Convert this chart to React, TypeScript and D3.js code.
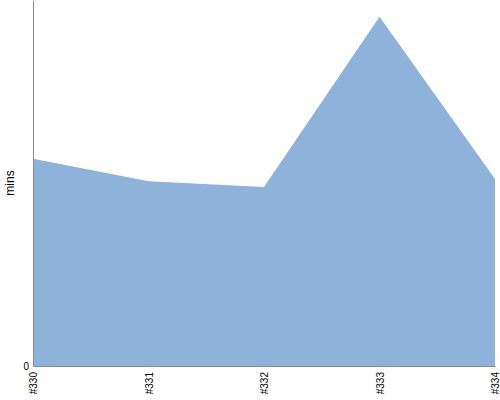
import React, { useEffect, useRef } from 'react';
import * as d3 from 'd3';

// episode numbers and minutes
const episodes = ['#330', '#331', '#332', '#333', '#334'];
const minutes = [56.6, 50.5, 48.9, 95.4, 51.1];
const yMax = 100;

const App = () => {
    const ref = useRef<SVGSVGElement>(null);

    useEffect(() => {
        const svg = d3.select(ref.current);
        svg.selectAll('*').remove();

        var margin = { top: 0, right: 5, bottom: 34, left: 33 },
            width = 500 - margin.left - margin.right,
            height = 400 - margin.top - margin.bottom;

        const g = svg.append('g')
            .attr('transform', 'translate(' + margin.left + ',' + margin.top + ')');

        const x = d3.scalePoint<string>()
            .domain(episodes)
            .range([0, width]);

        const y = d3.scaleLinear()
            .domain([0, yMax])
            .range([height, 0]);

        const area = d3.area<number>()
            .x((d, i) => x(episodes[i]) ?? 0)
            .y0(height)
            .y1(d => y(d));

        g.append('path')
            .datum(minutes)
            .attr('d', area)
            .attr('fill', '#8fb2db');

        // x axis
        const xAxis = g.append('g')
            .attr('transform', 'translate(0,' + height + ')')
            .call(d3.axisBottom(x).tickSize(0).tickPadding(0));
        xAxis.select('.domain').attr('stroke', '#888');
        xAxis.selectAll('text')
            .attr('transform', 'rotate(-90)')
            .attr('x', -6)
            .attr('y', 0)
            .attr('dy', '0.35em')
            .style('text-anchor', 'end')
            .style('font-family', 'Arial, "Liberation Sans", sans-serif')
            .style('font-size', '10px')
            .attr('fill', '#000');

        // y axis
        const yAxis = g.append('g')
            .call(d3.axisLeft(y).tickValues([0]).tickSize(0).tickPadding(4).tickFormat(d3.format('d')));
        yAxis.select('.domain').attr('stroke', '#888');
        yAxis.selectAll('text')
            .style('font-family', 'Arial, "Liberation Sans", sans-serif')
            .style('font-size', '10px')
            .attr('fill', '#000');

        g.append('text')
            .attr('transform', 'rotate(-90)')
            .attr('x', -height / 2)
            .attr('y', -19)
            .style('text-anchor', 'middle')
            .style('font-family', 'Arial, "Liberation Sans", sans-serif')
            .style('font-size', '12px')
            .text('mins');
    }, []);

    return <svg ref={ref} width={500} height={400} style={{ position: 'absolute', left: 0, top: 0 }} />;
};

export default App;
